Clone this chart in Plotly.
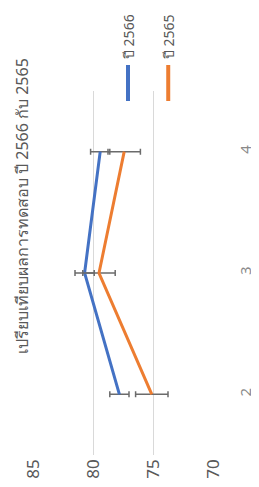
import plotly.graph_objects as go

# ---- data ----
categories = ["2", "3", "4"]
series_names = ["ปี 2566", "ปี 2565"]
values_2566 = [77.8, 80.7, 79.4]
values_2565 = [75.1, 79.5, 77.4]
err_2566 = [0.8, 0.8, 0.8]
err_2565 = [1.35, 1.35, 1.35]
value_ticks = [85, 80, 75, 70]
title_text = "เปรียบเทียบผลการทดสอบ ปี 2566 กับ 2565"

colors = ["#4472C4", "#ED7D31"]
W, H = 259, 487
L, R, T, B = 25, 37, 83, 40
pw, ph = W - L - R, H - T - B

def px(x):
    return (x - L) / pw

def py(y):
    return (H - B - y) / ph

fig = go.Figure()
for name, vals, errs, c in [
    (series_names[0], values_2566, err_2566, colors[0]),
    (series_names[1], values_2565, err_2565, colors[1]),
]:
    fig.add_trace(go.Scatter(
        x=vals, y=categories, mode="lines", name=name,
        line=dict(color=c, width=3),
        error_x=dict(type="data", array=errs, visible=True,
                     color="#6b6b6b", thickness=1.5, width=3),
        showlegend=False,
    ))

# legend drawn rotated (whole chart is rotated 90° CCW)
for i, (name, c) in enumerate(zip(series_names, colors)):
    cx = 129 + i * 44
    fig.add_shape(type="line", xref="paper", yref="paper",
                  x0=px(cx), x1=px(cx), y0=py(57), y1=py(93),
                  line=dict(color=c, width=4))
    fig.add_annotation(xref="paper", yref="paper", x=px(cx), y=py(29),
                       text=name, textangle=-90, showarrow=False,
                       font=dict(size=14, color="#595959"),
                       xanchor="center", yanchor="middle")

fig.add_annotation(xref="paper", yref="paper", x=px(13), y=py(198),
                   text=title_text, textangle=-90, showarrow=False,
                   font=dict(size=16, color="#595959"),
                   xanchor="center", yanchor="middle")

fig.update_layout(
    width=W, height=H,
    margin=dict(l=L, r=R, t=T, b=B),
    paper_bgcolor="white", plot_bgcolor="white",
    font=dict(family="Noto Sans, DejaVu Sans, sans-serif", color="#595959"),
    xaxis=dict(range=[85, 70], tickvals=value_ticks, tickangle=-90,
               showgrid=True, gridcolor="#d9d9d9", gridwidth=1,
               zeroline=False, showline=False, ticks="",
               tickfont=dict(size=17, color="#595959")),
    yaxis=dict(type="category", categoryorder="array", categoryarray=categories,
               range=[-0.5, 2.5], side="right", tickangle=-90,
               showgrid=False, zeroline=False, showline=False, ticks="",
               ticklabelstandoff=22,
               tickfont=dict(size=15, color="#8a8a8a")),
)

fig.write_html("out.html")
